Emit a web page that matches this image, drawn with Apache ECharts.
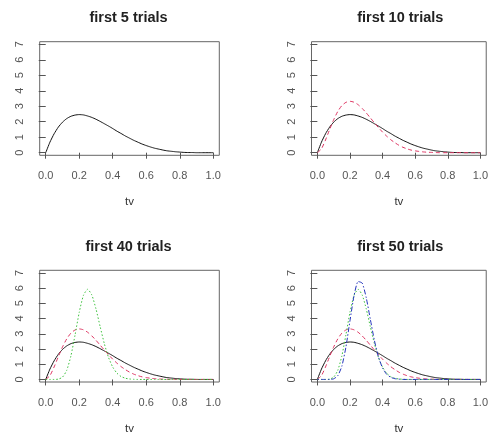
<!DOCTYPE html>
<html>
<head>
<meta charset="utf-8">
<script src="https://cdn.jsdelivr.net/npm/echarts@6/dist/echarts.min.js"></script>
<style>
    html, body { margin: 0; padding: 0; background: #fff; }
    #chart { width: 491px; height: 436px; }
</style>
</head>
<body>
<div id="chart"></div>
<script>
    // x grid of the density curves (tv)
    const xs = [0, 0.025, 0.05, 0.075, 0.1, 0.125, 0.15, 0.175, 0.2, 0.225,
        0.25, 0.275, 0.3, 0.325, 0.35, 0.375, 0.4, 0.425, 0.45, 0.475,
        0.5, 0.525, 0.55, 0.575, 0.6, 0.625, 0.65, 0.675, 0.7, 0.725,
        0.75, 0.775, 0.8, 0.825, 0.85, 0.875, 0.9, 0.925, 0.95, 0.975, 1];

    // densities
    const black = [0, 0.68, 1.22, 1.65, 1.97, 2.2, 2.35, 2.43, 2.46, 2.44,
        2.37, 2.28, 2.16, 2.02, 1.87, 1.72, 1.56, 1.39, 1.24, 1.08,
        0.94, 0.8, 0.68, 0.56, 0.46, 0.37, 0.29, 0.23, 0.17, 0.12,
        0.09, 0.06, 0.04, 0.02, 0.01, 0.01, 0, 0, 0, 0, 0];
    const red = [0, 0.25, 0.82, 1.49, 2.13, 2.66, 3.04, 3.25, 3.32, 3.26,
        3.1, 2.86, 2.57, 2.25, 1.93, 1.62, 1.33, 1.07, 0.84, 0.65,
        0.48, 0.35, 0.25, 0.17, 0.12, 0.08, 0.05, 0.03, 0.02, 0.01,
        0, 0, 0, 0, 0, 0, 0, 0, 0, 0, 0];
    const green = [0, 0, 0, 0.02, 0.15, 0.59, 1.53, 2.92, 4.41, 5.52,
        5.92, 5.55, 4.63, 3.46, 2.34, 1.44, 0.81, 0.41, 0.19, 0.08,
        0.03, 0.01, 0, 0, 0, 0, 0, 0, 0, 0,
        0, 0, 0, 0, 0, 0, 0, 0, 0, 0, 0];
    const blue = [0, 0, 0, 0, 0.04, 0.24, 0.86, 2.12, 3.85, 5.5,
        6.43, 6.33, 5.36, 3.95, 2.56, 1.47, 0.75, 0.34, 0.14, 0.05,
        0.02, 0, 0, 0, 0, 0, 0, 0, 0, 0,
        0, 0, 0, 0, 0, 0, 0, 0, 0, 0, 0];

    const titles = ["first 5 trials", "first 10 trials", "first 40 trials", "first 50 trials"];
    const xTicks = [0, 0.2, 0.4, 0.6, 0.8, 1];
    const yTicks = [0, 1, 2, 3, 4, 5, 6, 7];
    const panelCurves = [
        ["black"],
        ["black", "red"],
        ["black", "red", "green"],
        ["black", "red", "green", "blue"]
    ];

    const curves = { black: black, red: red, green: green, blue: blue };
    const styles = {
        black: { color: "#111", type: "solid" },
        red: { color: "#dd3360", type: [4, 3] },
        green: { color: "#3fc23f", type: [1.5, 2] },
        blue: { color: "#2233bb", type: [1.5, 2, 5, 2] }
    };

    // plot boxes (frame of each panel)
    const boxes = [[39.7, 41.7], [311.5, 41.7], [39.7, 270.3], [311.5, 270.3]];
    const boxW = 179.6;
    const boxH = 113.6;
    const font = "'Liberation Sans', Arial, sans-serif";
    const grey = "#555";

    const chart = echarts.init(document.getElementById("chart"));

    const grid = [], xAxis = [], yAxis = [], title = [], series = [];

    boxes.forEach(function (b, i) {
        grid.push({
            left: b[0], top: b[1], width: boxW, height: boxH,
            show: true, borderColor: "#666", borderWidth: 1,
            backgroundColor: "transparent"
        });
        title.push({
            text: titles[i],
            left: b[0] + boxW / 2 - 1,
            top: b[1] - 31,
            padding: 0,
            textAlign: "center",
            textStyle: { fontSize: 14.5, fontWeight: "bold", color: "#222", fontFamily: font }
        });
        xAxis.push({
            gridIndex: i,
            type: "value",
            min: -0.036,
            max: 1.036,
            offset: 1,
            name: "tv",
            nameLocation: "middle",
            nameGap: 40,
            nameTextStyle: { fontSize: 11.5, color: "#333", fontFamily: font },
            axisLine: { show: false },
            axisTick: { show: true, length: 6, customValues: xTicks, lineStyle: { color: grey } },
            axisLabel: {
                customValues: xTicks,
                margin: 14,
                fontSize: 11,
                color: grey,
                fontFamily: font,
                formatter: function (v) { return v.toFixed(1); }
            },
            splitLine: { show: false }
        });
        yAxis.push({
            gridIndex: i,
            type: "value",
            min: -0.168,
            max: 7.168,
            offset: 1,
            axisLine: { show: false },
            axisTick: { show: true, length: 7, customValues: yTicks, lineStyle: { color: grey } },
            axisLabel: {
                customValues: yTicks,
                rotate: 90,
                margin: 13,
                fontSize: 11,
                color: grey,
                fontFamily: font
            },
            splitLine: { show: false }
        });
        panelCurves[i].forEach(function (key) {
            series.push({
                type: "line",
                xAxisIndex: i,
                yAxisIndex: i,
                showSymbol: false,
                smooth: 0.2,
                silent: true,
                lineStyle: { width: 1, color: styles[key].color, type: styles[key].type },
                data: xs.map(function (x, k) { return [x, curves[key][k]]; })
            });
        });
    });

    chart.setOption({
        animation: false,
        title: title,
        grid: grid,
        xAxis: xAxis,
        yAxis: yAxis,
        series: series
    });
</script>
</body>
</html>
